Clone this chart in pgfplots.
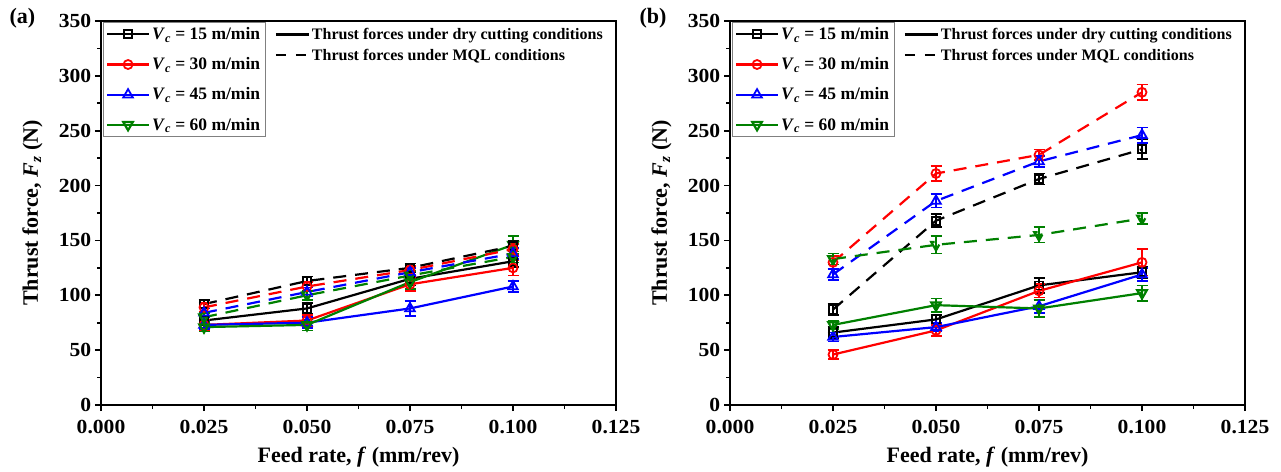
\documentclass[border=0pt]{standalone}
\usepackage{fontspec}
\setmainfont{Liberation Serif}
\usepackage{pgfplots}
\pgfplotsset{compat=1.18}
\definecolor{cblack}{RGB}{0,0,0}
\definecolor{cred}{RGB}{255,0,0}
\definecolor{cblue}{RGB}{0,0,255}
\definecolor{cgreen}{RGB}{0,128,0}

\pgfplotsset{
  panel/.style={
    scale only axis, width=515pt, height=384pt,
    xmin=0, xmax=0.125, ymin=0, ymax=350,
    xtick={0,0.025,0.05,0.075,0.1,0.125},
    xticklabels={0.000,0.025,0.050,0.075,0.100,0.125},
    ytick={0,50,100,150,200,250,300,350},
    minor x tick num=1, minor y tick num=1,
    xtick pos=bottom, ytick pos=left, tick align=outside,
    major tick length=6pt, minor tick length=4pt,
    every tick/.style={black, line width=1.8pt},
    axis line style={line width=2.2pt},
    /pgf/number format/assume math mode=true,
    tick label style={font=\bfseries\fontsize{20}{20}\selectfont, xscale=1.08},
    xticklabel style={yshift=-6pt},
    label style={font=\bfseries\fontsize{22}{22}\selectfont},
    xlabel={Feed rate, \textit{f} (mm/rev)},
    ylabel={Thrust force, \textit{F}\textsubscript{\textit{z}} (N)},
    ylabel style={yshift=9pt},
    xlabel style={yshift=-6pt},
    legend style={at={(0.003,0.997)}, anchor=north west, draw=gray, line width=0.8pt,
      font=\bfseries\fontsize{17.5}{17.5}\selectfont, row sep=12.5pt, inner sep=3pt, cells={anchor=west}},
    legend image code/.code={\draw[mark repeat=2,mark phase=2] plot coordinates {(0pt,0pt) (21pt,0pt) (42pt,0pt)};},
    error bars/y dir=both, error bars/y explicit,
    error bars/error mark options={rotate=90, line width=1.7pt, mark size=5.5pt},
    error bars/error bar style={line width=1.7pt, solid},
  },
  dry/.style={line width=2.2pt, solid, mark options={solid, fill=white, line width=1.8pt}, mark size=4.5pt},
  mql/.style={line width=2.2pt, dash pattern=on 13pt off 9pt, mark options={solid, fill=white, line width=1.8pt}, mark size=4.5pt},
  sq/.style={color=cblack, mark=square, mark size=4pt},
  ci/.style={color=cred, mark=o},
  tu/.style={color=cblue, mark=triangle, mark size=5.5pt},
  td/.style={color=cgreen, mark=triangle, mark size=5.5pt, mark options={rotate=180}},
  leg2/.style={
    scale only axis, width=515pt, height=384pt, hide axis,
    xmin=0, xmax=1, ymin=0, ymax=1,
    legend style={at={(0.335,0.99)}, anchor=north west, draw=none, fill=none,
      font=\bfseries\fontsize{16}{16}\selectfont, row sep=4pt, inner sep=1pt, cells={anchor=west}},
    legend image code/.code={\draw (0pt,0pt) -- (33pt,0pt);},
  },
}

\begin{document}
\begin{tikzpicture}
\path[use as bounding box] (0pt,0pt) rectangle (1281pt,471pt);
\node[font=\bfseries\fontsize{22}{22}\selectfont, anchor=west] at (6pt,453pt) {(a)};
\node[font=\bfseries\fontsize{22}{22}\selectfont, anchor=west] at (636pt,453pt) {(b)};

% ---------------- panel (a)
\begin{axis}[panel, at={(101pt,66pt)}, anchor=south west]
\addplot[dry, sq] table[y error index=2] {
0.025 77 4
0.05 88 5
0.075 115 6
0.1 131 5
};
\addlegendentry{\textit{V}\textsubscript{\textit{c}} = 15 m/min}
\addplot[dry, ci] table[y error index=2] {
0.025 73 5
0.05 77 5
0.075 110 6
0.1 125 7
};
\addlegendentry{\textit{V}\textsubscript{\textit{c}} = 30 m/min}
\addplot[dry, tu] table[y error index=2] {
0.025 73 4
0.05 75 5
0.075 88 7
0.1 108 5
};
\addlegendentry{\textit{V}\textsubscript{\textit{c}} = 45 m/min}
\addplot[dry, td] table[y error index=2] {
0.025 71 4
0.05 73 5
0.075 112 6
0.1 146 8
};
\addlegendentry{\textit{V}\textsubscript{\textit{c}} = 60 m/min}
\addplot[mql, sq, forget plot] table[y error index=2] {
0.025 92 4
0.05 113 4
0.075 125 4
0.1 145 5
};
\addplot[mql, ci, forget plot] table[y error index=2] {
0.025 89 4
0.05 108 4
0.075 123 4
0.1 142 5
};
\addplot[mql, tu, forget plot] table[y error index=2] {
0.025 84 4
0.05 103 4
0.075 121 4
0.1 138 5
};
\addplot[mql, td, forget plot] table[y error index=2] {
0.025 80 4
0.05 100 4
0.075 118 4
0.1 135 5
};
\end{axis}
\begin{axis}[leg2, at={(101pt,66pt)}, anchor=south west]
\addlegendimage{black, line width=2.2pt}
\addlegendentry{Thrust forces under dry cutting conditions}
\addlegendimage{black, line width=2.2pt, dash pattern=on 10pt off 10pt}
\addlegendentry{Thrust forces under MQL conditions}
\end{axis}

% ---------------- panel (b)
\begin{axis}[panel, at={(730pt,66pt)}, anchor=south west]
\addplot[dry, sq] table[y error index=2] {
0.025 66 5
0.05 78 4
0.075 109 7
0.1 121 5
};
\addlegendentry{\textit{V}\textsubscript{\textit{c}} = 15 m/min}
\addplot[dry, ci] table[y error index=2] {
0.025 46 4
0.05 68 5
0.075 104 6
0.1 130 12
};
\addlegendentry{\textit{V}\textsubscript{\textit{c}} = 30 m/min}
\addplot[dry, tu] table[y error index=2] {
0.025 62 4
0.05 71 4
0.075 90 6
0.1 119 6
};
\addlegendentry{\textit{V}\textsubscript{\textit{c}} = 45 m/min}
\addplot[dry, td] table[y error index=2] {
0.025 73 4
0.05 91 6
0.075 88 8
0.1 102 7
};
\addlegendentry{\textit{V}\textsubscript{\textit{c}} = 60 m/min}
\addplot[mql, sq, forget plot] table[y error index=2] {
0.025 87 5
0.05 168 6
0.075 206 5
0.1 233 9
};
\addplot[mql, ci, forget plot] table[y error index=2] {
0.025 130 6
0.05 211 7
0.075 228 5
0.1 285 7
};
\addplot[mql, tu, forget plot] table[y error index=2] {
0.025 119 5
0.05 186 6
0.075 222 5
0.1 246 7
};
\addplot[mql, td, forget plot] table[y error index=2] {
0.025 133 5
0.05 146 8
0.075 155 7
0.1 170 5
};
\end{axis}
\begin{axis}[leg2, at={(730pt,66pt)}, anchor=south west]
\addlegendimage{black, line width=2.2pt}
\addlegendentry{Thrust forces under dry cutting conditions}
\addlegendimage{black, line width=2.2pt, dash pattern=on 10pt off 10pt}
\addlegendentry{Thrust forces under MQL conditions}
\end{axis}
\end{tikzpicture}
\end{document}
